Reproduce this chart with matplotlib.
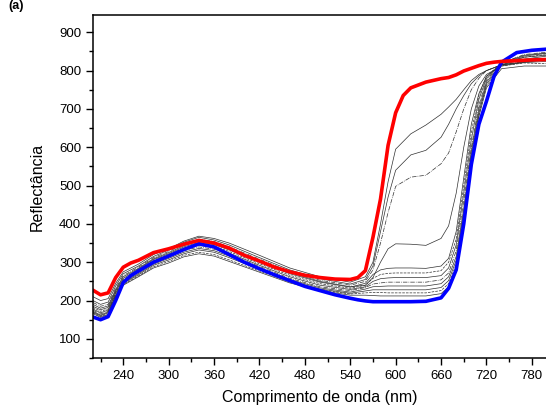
import matplotlib.pyplot as plt
from matplotlib.ticker import MultipleLocator

plt.rcParams['font.family'] = ['Liberation Sans', 'DejaVu Sans']

# wavelength grid (nm) for the two highlighted spectra
wl = [200, 210, 220, 230, 240, 250, 260, 280, 300, 320, 340, 360, 380, 400, 420,
      440, 460, 480, 500, 520, 540, 550, 560, 570, 580, 590, 600, 610, 620, 640,
      660, 670, 680, 690, 700, 710, 720, 730, 740, 760, 780, 800]

red = [227, 215, 220, 260, 287, 298, 305, 325, 335, 347, 357, 350, 337, 318, 303,
       287, 275, 266, 260, 256, 255, 260, 278, 365, 465, 605, 690, 735, 755, 770,
       779, 782, 789, 799, 806, 813, 819, 822, 824, 826, 828, 829]

blue = [157, 150, 158, 200, 247, 265, 277, 300, 316, 333, 348, 340, 320, 300, 283,
        267, 252, 237, 226, 215, 206, 202, 199, 197, 197, 197, 197, 197, 197, 198,
        207, 232, 280, 400, 555, 660, 720, 785, 822, 847, 853, 856]

# wavelength grid (nm) for the thin intermediate spectra
wl_t = [200, 210, 220, 230, 240, 260, 280, 300, 320, 340, 360, 380, 420, 460, 500,
        540, 560, 570, 580, 590, 600, 620, 640, 660, 670, 680, 690, 700, 710, 720,
        740, 770, 800]

t1 = [210, 200, 205, 245, 275, 295, 320, 335, 355, 368, 362, 350, 318, 285, 262,
      248, 262, 300, 400, 510, 595, 635, 658, 686, 705, 725, 750, 774, 790, 800,
      815, 821, 824]
t2 = [200, 190, 196, 238, 270, 290, 315, 332, 352, 365, 358, 345, 312, 280, 257,
      243, 255, 290, 380, 470, 540, 580, 592, 626, 660, 700, 735, 766, 786, 800,
      815, 823, 828]
t3 = [195, 185, 190, 232, 265, 287, 312, 328, 347, 360, 354, 340, 308, 276, 253,
      240, 250, 280, 350, 430, 498, 522, 527, 557, 585, 640, 700, 750, 780, 800,
      815, 824, 832]
t4 = [190, 180, 186, 228, 262, 284, 309, 325, 343, 356, 350, 336, 305, 273, 250,
      236, 240, 260, 300, 335, 348, 347, 344, 362, 395, 480, 600, 700, 760, 790,
      812, 822, 828]
t5 = [185, 176, 182, 225, 258, 282, 307, 322, 340, 352, 346, 332, 300, 270, 248,
      235, 245, 268, 280, 284, 285, 285, 284, 290, 310, 380, 520, 660, 740, 785,
      815, 830, 838]
t6 = [182, 172, 178, 222, 255, 279, 304, 320, 337, 348, 342, 328, 296, 266, 244,
      232, 240, 258, 268, 271, 272, 272, 272, 278, 300, 360, 500, 640, 735, 785,
      820, 835, 842]
t7 = [178, 168, 175, 220, 252, 276, 302, 318, 334, 344, 338, 324, 292, 262, 240,
      229, 236, 250, 257, 259, 260, 260, 260, 265, 285, 345, 480, 620, 725, 780,
      820, 840, 846]
t8 = [175, 165, 172, 217, 250, 273, 298, 314, 330, 340, 334, 320, 289, 258, 236,
      226, 234, 243, 246, 248, 248, 248, 248, 254, 272, 330, 460, 600, 710, 775,
      820, 842, 848]
t9 = [172, 162, 170, 214, 247, 270, 295, 310, 326, 336, 330, 316, 285, 255, 233,
      222, 230, 236, 237, 238, 238, 238, 238, 244, 262, 315, 440, 590, 700, 770,
      818, 838, 845]
t10 = [170, 160, 168, 212, 245, 267, 292, 306, 322, 332, 326, 312, 281, 252, 230,
       219, 225, 228, 228, 228, 228, 228, 228, 234, 252, 305, 430, 580, 690, 765,
       815, 835, 840]
t11 = [168, 158, 165, 210, 242, 264, 288, 302, 318, 326, 320, 306, 277, 249, 228,
       217, 220, 221, 221, 220, 220, 220, 220, 226, 244, 295, 420, 570, 685, 760,
       812, 820, 818]
t12 = [166, 156, 163, 208, 240, 262, 285, 298, 314, 322, 316, 302, 274, 246, 226,
       214, 214, 213, 212, 212, 212, 212, 212, 218, 236, 285, 410, 560, 680, 755,
       805, 812, 812]

thin = [t1, t2, t3, t4, t5, t6, t7, t8, t9, t10, t11, t12]
styles = ['-', '-', '-.', '-', '-', '--', '-', '-.', '-', '-', '--', '-']

fig = plt.figure(figsize=(5.46, 4.12), dpi=100)
ax = fig.add_axes([0.1703, 0.131, 0.8315, 0.8325])

for vals, ls in zip(thin, styles):
    ax.plot(wl_t, vals, color='#303030', lw=0.5, ls=ls)

ax.plot(wl, blue, color='#0000ff', lw=2.6, solid_capstyle='round')
ax.plot(wl, red, color='#ff0000', lw=2.6, solid_capstyle='round')

ax.set_xlim(200, 800)
ax.set_ylim(50, 945)
ax.xaxis.set_minor_locator(MultipleLocator(30))
ax.yaxis.set_minor_locator(MultipleLocator(50))
ax.set_xticks(range(240, 781, 60))
ax.set_yticks(range(100, 901, 100))

ax.tick_params(which='major', direction='out', length=5, width=1, labelsize=9.5)
ax.tick_params(which='minor', direction='out', length=3, width=1)
for s in ax.spines.values():
    s.set_linewidth(1.1)

ax.set_xlabel('Comprimento de onda (nm)', fontsize=11.5, labelpad=6)
ax.set_ylabel('Reflectância', fontsize=11.5, labelpad=10)

fig.text(0.015, 0.999, '(a)', fontsize=9, fontweight='bold', va='top')

fig.savefig('out.png', dpi=100)
